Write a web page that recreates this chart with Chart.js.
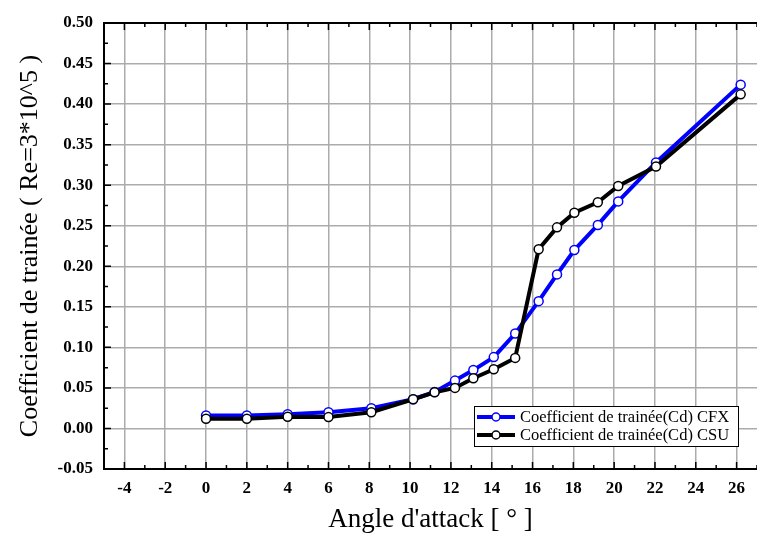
<!DOCTYPE html>
<html>
<head>
<meta charset="utf-8">
<script src="https://cdn.jsdelivr.net/npm/chart.js@4.4.0/dist/chart.umd.min.js"></script>
<style>
  html, body { margin: 0; padding: 0; background: #fff; }
</style>
</head>
<body>
<canvas id="dragChart" width="757" height="533"></canvas>
<script>
// angle of attack (deg) and drag coefficients
const angles = [0, 2, 4, 6, 8.1, 10.15, 11.2, 12.2, 13.1, 14.1, 15.15, 16.3, 17.2, 18.05, 19.2, 20.2, 22.05, 26.2];
const cdCfx = [0.016, 0.016, 0.0175, 0.020, 0.025, 0.036, 0.045, 0.059, 0.072, 0.088, 0.117, 0.157, 0.190, 0.220, 0.251, 0.280, 0.328, 0.424];
const cdCsu = [0.012, 0.012, 0.0145, 0.014, 0.020, 0.036, 0.0445, 0.050, 0.062, 0.073, 0.087, 0.221, 0.248, 0.266, 0.279, 0.299, 0.323, 0.412];

const xTicks = [-4, -2, 0, 2, 4, 6, 8, 10, 12, 14, 16, 18, 20, 22, 24, 26];
const yTicks = [-0.05, 0, 0.05, 0.10, 0.15, 0.20, 0.25, 0.30, 0.35, 0.40, 0.45, 0.50];

const seriesNames = ['Coefficient de trainée(Cd) CFX', 'Coefficient de trainée(Cd) CSU'];
const seriesColors = ['#0000ff', '#000000'];

const serif = "'Liberation Serif', 'Times New Roman', serif";

function toPoints(xs, ys) {
  return xs.map((x, i) => ({ x: x, y: ys[i] }));
}

// frame with inward major/minor ticks (right side falls outside the picture)
const frameTicks = {
  id: 'frameTicks',
  afterDraw(chart) {
    const ctx = chart.ctx;
    const a = chart.chartArea;
    const xs = chart.scales.x;
    const ys = chart.scales.y;
    ctx.save();
    ctx.strokeStyle = '#000';
    ctx.lineWidth = 1.5;
    ctx.beginPath();
    for (let v = -5; v <= 27; v++) {
      const px = xs.getPixelForValue(v);
      const len = v % 2 === 0 ? 7 : 4;
      ctx.moveTo(px, a.bottom); ctx.lineTo(px, a.bottom - len);
      ctx.moveTo(px, a.top); ctx.lineTo(px, a.top + len);
    }
    for (let i = -2; i <= 20; i++) {
      const py = ys.getPixelForValue(i * 0.025);
      const len = i % 2 === 0 ? 7 : 4;
      ctx.moveTo(a.left, py); ctx.lineTo(a.left + len, py);
    }
    ctx.stroke();
    ctx.lineWidth = 2;
    ctx.beginPath();
    ctx.moveTo(a.right, a.top);
    ctx.lineTo(a.left, a.top);
    ctx.lineTo(a.left, a.bottom);
    ctx.lineTo(a.right, a.bottom);
    ctx.stroke();
    ctx.restore();
  }
};

// boxed legend in the lower right corner of the plot
const boxLegend = {
  id: 'boxLegend',
  afterDraw(chart) {
    const ctx = chart.ctx;
    const a = chart.chartArea;
    const left = a.left + 370;
    const top = a.bottom - 63;
    ctx.save();
    ctx.fillStyle = '#fff';
    ctx.fillRect(left, top, 264, 40);
    ctx.strokeStyle = '#000';
    ctx.lineWidth = 1;
    ctx.strokeRect(left + 0.5, top + 0.5, 264, 40);
    chart.data.datasets.forEach((ds, i) => {
      const y = top + 11 + i * 18;
      ctx.strokeStyle = ds.borderColor;
      ctx.lineWidth = 4;
      ctx.beginPath();
      ctx.moveTo(left + 3, y);
      ctx.lineTo(left + 41, y);
      ctx.stroke();
      ctx.fillStyle = '#fff';
      ctx.lineWidth = 1.5;
      ctx.beginPath();
      ctx.arc(left + 22, y, 4, 0, Math.PI * 2);
      ctx.fill();
      ctx.stroke();
      ctx.fillStyle = '#000';
      ctx.font = '16.5px ' + serif;
      ctx.textBaseline = 'middle';
      ctx.fillText(ds.label, left + 46, y + 1);
    });
    ctx.restore();
  }
};

new Chart(document.getElementById('dragChart'), {
  type: 'scatter',
  data: {
    datasets: [
      {
        label: seriesNames[0],
        data: toPoints(angles, cdCfx),
        showLine: true,
        borderColor: seriesColors[0],
        borderWidth: 4,
        pointRadius: 4.5,
        pointBorderWidth: 1.5,
        pointBackgroundColor: '#fff',
        pointBorderColor: seriesColors[0],
        order: 1
      },
      {
        label: seriesNames[1],
        data: toPoints(angles, cdCsu),
        showLine: true,
        borderColor: seriesColors[1],
        borderWidth: 4,
        pointRadius: 4.5,
        pointBorderWidth: 1.5,
        pointBackgroundColor: '#fff',
        pointBorderColor: seriesColors[1],
        order: 0
      }
    ]
  },
  options: {
    responsive: false,
    animation: false,
    layout: { autoPadding: false, padding: { top: 23, right: 0, left: 0, bottom: 0 } },
    plugins: {
      legend: { display: false },
      tooltip: { enabled: false }
    },
    scales: {
      x: {
        type: 'linear',
        min: -5,
        max: 27,
        afterBuildTicks: scale => { scale.ticks = xTicks.map(v => ({ value: v })); },
        afterFit: scale => {
          scale.height = 64;
          scale.paddingLeft = 0;
          scale.paddingRight = 0;
        },
        grid: { color: '#ababab', lineWidth: 1.5, drawTicks: false },
        border: { display: false },
        ticks: {
          padding: 9,
          color: '#000',
          font: { family: serif, size: 17, weight: 'bold' },
          callback: v => String(v)
        },
        title: {
          display: true,
          text: "Angle d'attack [ ° ]",
          color: '#000',
          font: { family: serif, size: 27, lineHeight: 1 },
          padding: { top: 0, bottom: 0 }
        }
      },
      y: {
        type: 'linear',
        min: -0.05,
        max: 0.5,
        afterBuildTicks: scale => { scale.ticks = yTicks.map(v => ({ value: v })); },
        afterFit: scale => {
          scale.width = 104;
          scale.paddingTop = 0;
          scale.paddingBottom = 0;
        },
        grid: { color: '#ababab', lineWidth: 1.5, drawTicks: false },
        border: { display: false },
        ticks: {
          padding: 11,
          color: '#000',
          font: { family: serif, size: 17, weight: 'bold' },
          callback: v => v.toFixed(2)
        },
        title: {
          display: true,
          text: 'Coefficient de trainée ( Re=3*10^5 )',
          color: '#000',
          font: { family: serif, size: 26, lineHeight: 1 },
          padding: { top: 17, bottom: 0 }
        }
      }
    }
  },
  plugins: [frameTicks, boxLegend]
});
</script>
</body>
</html>
